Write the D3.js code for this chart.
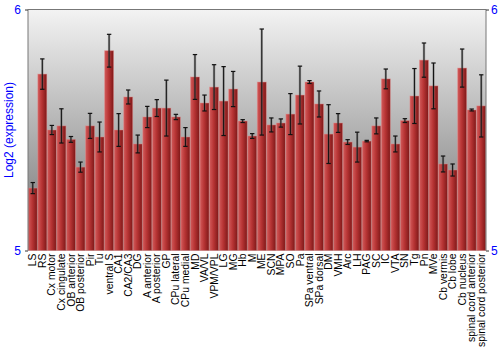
<!DOCTYPE html>
<html lang="en">
<head>
    <meta charset="UTF-8">
    <title>Log2 expression by region</title>
    <script src="https://cdnjs.cloudflare.com/ajax/libs/d3/7.8.5/d3.min.js"></script>
    <style>
        body { margin: 0; background: #fff; }
        svg text { font-family: "Liberation Sans", Arial, sans-serif; }
    </style>
</head>
<body>
    <div id="chart"></div>
    <script>
        // Chart data
        const regions = ["LS", "RS", "Cx motor", "Cx cingulate", "OB anterior", "OB posterior", "Pir", "Tu",
            "ventral S", "CA1", "CA2/CA3", "DG", "A anterior", "A posterior", "GP", "CPu lateral", "CPu medial",
            "MD", "VA/VL", "VPM/VPL", "LG", "MG", "Hb", "M", "ME", "SCN", "MPA", "SO", "Pa", "SPa ventral",
            "SPa dorsal", "DM", "VMH", "Arc", "LH", "PAG", "SC", "IC", "VTA", "SN", "Tg", "Pn", "MVe",
            "Cb vermis", "Cb lobe", "Cb nucleus", "spinal cord anterior", "spinal cord posterior"];
        const expression = [5.259, 5.732, 5.500, 5.517, 5.461, 5.346, 5.517, 5.471,
            5.829, 5.500, 5.637, 5.442, 5.554, 5.591, 5.591, 5.554, 5.471,
            5.720, 5.612, 5.678, 5.620, 5.670, 5.537, 5.475, 5.699, 5.521, 5.529, 5.566, 5.645, 5.699,
            5.608, 5.483, 5.529, 5.450, 5.429, 5.454, 5.517, 5.712, 5.442, 5.539, 5.641, 5.790, 5.683,
            5.359, 5.334, 5.757, 5.583, 5.600];
        const errors = [0.023, 0.063, 0.019, 0.071, 0.012, 0.021, 0.052, 0.062,
            0.068, 0.068, 0.029, 0.037, 0.044, 0.035, 0.116, 0.011, 0.039,
            0.093, 0.033, 0.093, 0.143, 0.073, 0.006, 0.010, 0.220, 0.029, 0.017, 0.085, 0.120, 0.006,
            0.054, 0.122, 0.039, 0.010, 0.062, 0.003, 0.033, 0.041, 0.033, 0.008, 0.114, 0.071, 0.095,
            0.033, 0.025, 0.079, 0.004, 0.129];
        const yTicks = [5, 6];
        const yDomain = [5, 6];

        const data = regions.map((r, i) => ({ region: r, value: expression[i], err: errors[i] }));

        const width = 500, height = 350;
        const margin = { top: 9.5, right: 14, bottom: 99.5, left: 28 };
        const innerW = width - margin.left - margin.right;
        const innerH = height - margin.top - margin.bottom;

        const svg = d3.select("#chart").append("svg")
            .attr("width", width)
            .attr("height", height);

        const defs = svg.append("defs");

        const bg = defs.append("linearGradient")
            .attr("id", "bg-grad")
            .attr("x1", 0).attr("y1", 0).attr("x2", 0).attr("y2", 1);
        bg.append("stop").attr("offset", "0%").attr("stop-color", "#f3f3f3");
        bg.append("stop").attr("offset", "100%").attr("stop-color", "#707070");

        const barGrad = defs.append("linearGradient")
            .attr("id", "bar-grad")
            .attr("x1", 0).attr("y1", 0).attr("x2", 1).attr("y2", 0);
        barGrad.append("stop").attr("offset", "0%").attr("stop-color", "#d25a5a");
        barGrad.append("stop").attr("offset", "45%").attr("stop-color", "#b73434");
        barGrad.append("stop").attr("offset", "100%").attr("stop-color", "#7e1818");

        const g = svg.append("g")
            .attr("transform", `translate(${margin.left},${margin.top})`);

        const x = d3.scaleBand()
            .domain(regions)
            .range([0, innerW])
            .paddingInner(0.06)
            .paddingOuter(0.03);

        const y = d3.scaleLinear()
            .domain(yDomain)
            .range([innerH, 0]);

        // Background
        g.append("rect")
            .attr("width", innerW)
            .attr("height", innerH)
            .attr("fill", "url(#bg-grad)");

        // Bars
        g.selectAll("rect.bar")
            .data(data)
            .join("rect")
            .attr("class", "bar")
            .attr("x", d => x(d.region))
            .attr("y", d => y(d.value))
            .attr("width", x.bandwidth())
            .attr("height", d => innerH - y(d.value))
            .attr("fill", "url(#bar-grad)")
            .attr("stroke", "rgba(225,140,140,0.55)")
            .attr("stroke-width", 0.8);

        // Error bars
        const eb = g.selectAll("g.err")
            .data(data)
            .join("g")
            .attr("class", "err")
            .attr("transform", d => `translate(${x(d.region) + x.bandwidth() / 2},0)`);

        eb.append("line")
            .attr("y1", d => y(d.value + d.err))
            .attr("y2", d => y(d.value - d.err))
            .attr("stroke", "#666")
            .attr("stroke-opacity", 0.5)
            .attr("stroke-width", 2.4);

        eb.append("line")
            .attr("y1", d => y(d.value + d.err))
            .attr("y2", d => y(d.value - d.err))
            .attr("stroke", "#111")
            .attr("stroke-width", 1);

        eb.selectAll("line.cap")
            .data(d => [d.value + d.err, d.value - d.err])
            .join("line")
            .attr("class", "cap")
            .attr("x1", -2.2).attr("x2", 2.2)
            .attr("y1", v => y(v)).attr("y2", v => y(v))
            .attr("stroke", "#111")
            .attr("stroke-width", 1.2);

        // Frame
        g.append("line")
            .attr("x1", 0).attr("x2", innerW)
            .attr("y1", 0).attr("y2", 0)
            .attr("stroke", "#777");

        // Left axis
        const leftAxis = g.append("g")
            .call(d3.axisLeft(y).tickValues(yTicks).tickFormat(d3.format("d")).tickSize(3).tickPadding(4));
        leftAxis.select(".domain").attr("stroke", "#777").attr("d", `M0,0V${innerH}`);
        leftAxis.selectAll(".tick line").attr("stroke", "#333");
        leftAxis.selectAll(".tick text")
            .attr("fill", "#0000ff")
            .style("font-size", "12px");

        // Right axis
        const rightAxis = g.append("g")
            .attr("transform", `translate(${innerW},0)`)
            .call(d3.axisRight(y).tickValues(yTicks).tickFormat(d3.format("d")).tickSize(3).tickPadding(2));
        rightAxis.select(".domain").attr("stroke", "#777").attr("d", `M0,0V${innerH}`);
        rightAxis.selectAll(".tick line").attr("stroke", "#333");
        rightAxis.selectAll(".tick text")
            .attr("fill", "#0000ff")
            .style("font-size", "12px");

        // Category labels
        g.append("g")
            .selectAll("text")
            .data(regions)
            .join("text")
            .attr("transform", d => `translate(${x(d) + x.bandwidth() / 2 + 3.6},${innerH + 3}) rotate(-90)`)
            .attr("text-anchor", "end")
            .style("font-size", "10.4px")
            .attr("fill", "#000")
            .text(d => d);

        // Y axis title
        svg.append("text")
            .attr("transform", `translate(13,${margin.top + innerH / 2}) rotate(-90)`)
            .attr("text-anchor", "middle")
            .attr("fill", "#0000ff")
            .style("font-size", "12px")
            .text("Log2 (expression)");
    </script>
</body>
</html>
